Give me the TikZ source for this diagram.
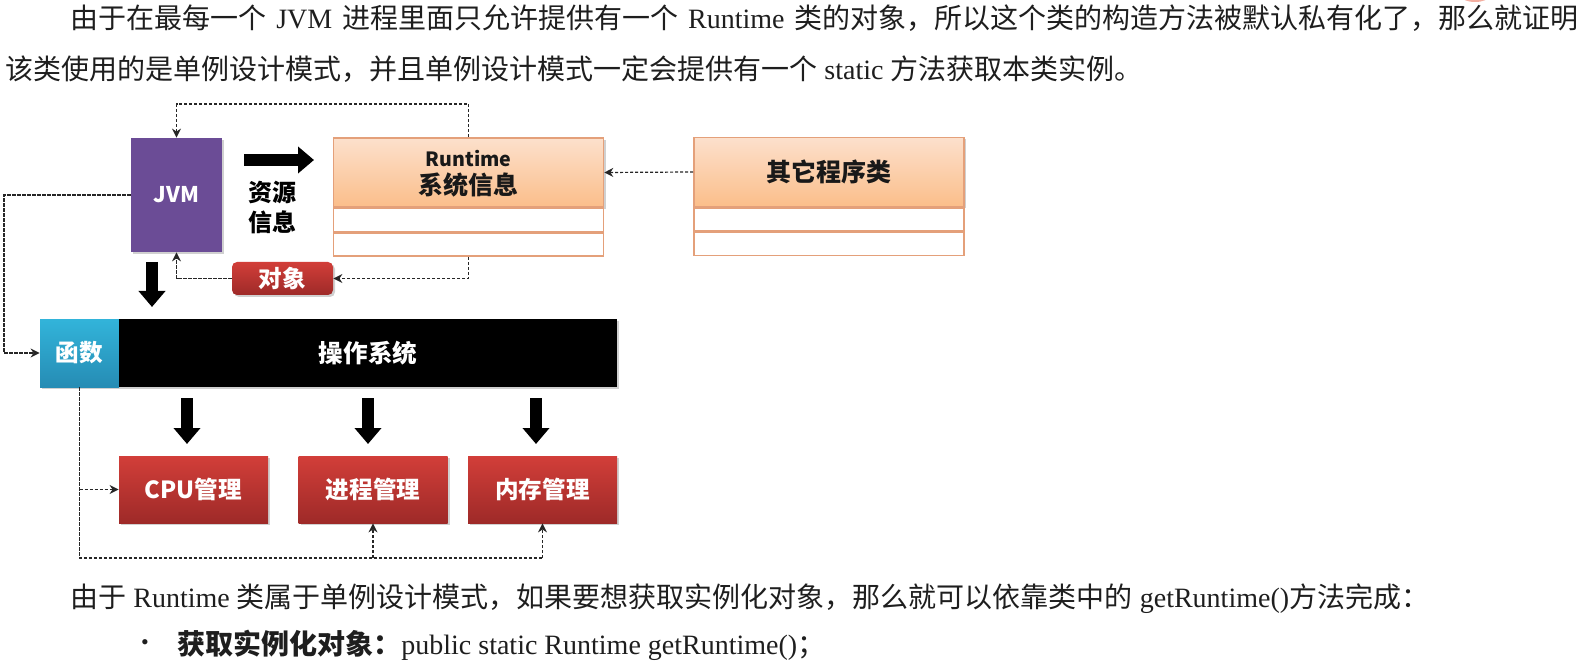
\documentclass[tikz,border=0pt]{standalone}
\usepackage{fontspec}
\setmainfont{Liberation Serif}
\newfontfamily\cjk{Noto Sans CJK SC}
\usetikzlibrary{arrows.meta,shadows}
\XeTeXlinebreaklocale "zh"
\XeTeXlinebreakskip=0pt plus 1pt
\newcommand\zh[1]{{\cjk #1}}
\definecolor{jvmpurple}{RGB}{107,76,150}
\definecolor{fntop}{RGB}{50,180,218}
\definecolor{fnbot}{RGB}{38,140,180}
\definecolor{redtop}{RGB}{210,62,57}
\definecolor{redbot}{RGB}{158,42,40}
\definecolor{peachtop}{RGB}{252,224,204}
\definecolor{peachbot}{RGB}{251,190,138}
\definecolor{peachline}{RGB}{228,160,122}
\definecolor{bodytext}{RGB}{30,30,30}
\definecolor{blob}{RGB}{238,140,120}
\tikzset{
  body/.style={font=\fontsize{14}{17}\selectfont, inner sep=0pt, text=bodytext},
  shad/.style={drop shadow={shadow xshift=1pt, shadow yshift=-1pt, opacity=0.3, fill=black!60}},
  lbl/.style={font=\cjk\bfseries\fontsize{#1}{#1}\selectfont, inner sep=0pt},
  lbl/.default=12,
  dline/.style={draw=black!85, line width=0.6pt, dash pattern=on 1.6pt off 0.9pt},
  dar/.style={dline, -{Stealth[length=4.5pt,width=4.5pt]}},
  blockarrow/.style={draw=black, line width=6pt, -{Triangle[length=8pt,width=13pt]}},
  redbox/.style={shad, top color=redtop, bottom color=redbot, draw=none, inner sep=0pt,
    minimum width=74.5pt, minimum height=33.5pt, text=white, lbl=11.8},
  classhead/.style={shad, top color=peachtop, bottom color=peachbot, draw=peachline, line width=0.8pt,
    inner sep=0pt, minimum width=135pt, minimum height=34.5pt},
  classrow/.style={fill=white, draw=peachline, line width=0.8pt, inner sep=0pt,
    minimum width=135pt, minimum height=11.5pt},
}
\begin{document}
\begin{tikzpicture}[x=0.5pt,y=-0.5pt]
\useasboundingbox (0,0) rectangle (1582,662);
\fill[white] (0,0) rectangle (1582,662);
\fill[blob, opacity=0.7] (1475,-4) ellipse [x radius=7pt, y radius=3pt];

% ---------- body text ----------
\node[body, anchor=west] (t1) at (70,18) {\makebox[754pt][s]{\zh{由于在最每一个} JVM \zh{进程里面只允许提供有一个} Runtime \zh{类的对象，所以这个类的构造方法被默认私有化了，那么就证明}}};
\node[body, anchor=west] (t2) at (5,69) {\zh{该类使用的是单例设计模式，并且单例设计模式一定会提供有一个} static \zh{方法获取本类实例。}};
\node[body, anchor=west] (t3) at (70,599) {\zh{由于} Runtime \zh{类属于单例设计模式，如果要想获取实例化对象，那么就可以依靠类中的} getRuntime()\zh{方法完成：}};
\node[body] (bul) at (145,645) {\fontsize{11}{12}\selectfont •};
\node[body, anchor=west] (t4) at (177,645) {{\cjk\bfseries 获取实例化对象：}public static Runtime getRuntime()\zh{；}};

% ---------- diagram ----------
\node[shad, fill=jvmpurple, minimum width=45.5pt, minimum height=57pt, inner sep=0pt,
      text=white, lbl=10.8] (jvm) at (176.5,195) {JVM};

% Runtime class
\node[classhead] (rth) at (468.5,172.5) {};
\node[classrow, anchor=north] (rt1) at (rth.south) {};
\node[classrow, anchor=north] (rt2) at (rt1.south) {};
\node[lbl=9.8, text=black!90] (rtname) at ([yshift=7.2pt]rth.center) {Runtime};
\node[lbl=12.5, text=black!90] (rtinfo) at ([yshift=-6.3pt]rth.center) {系统信息};

% other class
\node[classhead] (oth) at (829,172) {};
\node[classrow, anchor=north] (ot1) at (oth.south) {};
\node[classrow, anchor=north] (ot2) at (ot1.south) {};
\node[lbl=12.5, text=black!90] (otname) at (oth.center) {其它程序类};

% resource info label
\node[lbl=12, text=black, align=center, font=\cjk\bfseries\fontsize{12}{15}\selectfont] (res) at (272,207) {资源\\信息};

% object
\node[redbox, rounded corners=2.5pt, minimum width=50.5pt, minimum height=16.5pt, lbl=11.8] (obj) at (282.5,278.5) {对象};

% OS
\node[shad, top color=fntop, bottom color=fnbot, draw=none, minimum width=39.5pt, minimum height=34pt,
      inner sep=0pt, text=white, lbl=11.8] (fn) at (79.5,353) {函数};
\node[shad, fill=black, minimum width=249pt, minimum height=34pt, inner sep=0pt,
      text=white, lbl=12.3] (os) at (368,353) {操作系统};

\node[redbox] (cpu) at (193.5,489.5) {CPU管理};
\node[redbox] (proc) at (373,489.5) {进程管理};
\node[redbox] (mem) at (542.5,489.5) {内存管理};

% block arrows
\draw[blockarrow] (244,160) -- (314,160);
\draw[blockarrow] (152,262) -- (152,307);
\draw[blockarrow] (187,398) -- (187,444);
\draw[blockarrow] (368,398) -- (368,444);
\draw[blockarrow] (536,398) -- (536,444);

% dashed connectors
\coordinate (topy) at (0,104);
\coordinate (leftx) at (4,0);
\coordinate (boty) at (0,558);
\draw[dar] (rth.north) -- (rth.north |- topy) -| (jvm.north);
\draw[dar] (rt2.south) |- (obj.east);
\draw[dar] (obj.west) -| (jvm.south);
\draw[dar] (oth.west) -- (rth.east);
\draw[dar] (jvm.west) -- (jvm.west -| leftx) |- (fn.west);
\draw[dline] (fn.south) -- (fn.south |- boty) -- (mem.south |- boty);
\draw[dar] (fn.south |- cpu.west) -- (cpu.west);
\draw[dar] (proc.south |- boty) -- (proc.south);
\draw[dar] (mem.south |- boty) -- (mem.south);
\end{tikzpicture}
\end{document}
